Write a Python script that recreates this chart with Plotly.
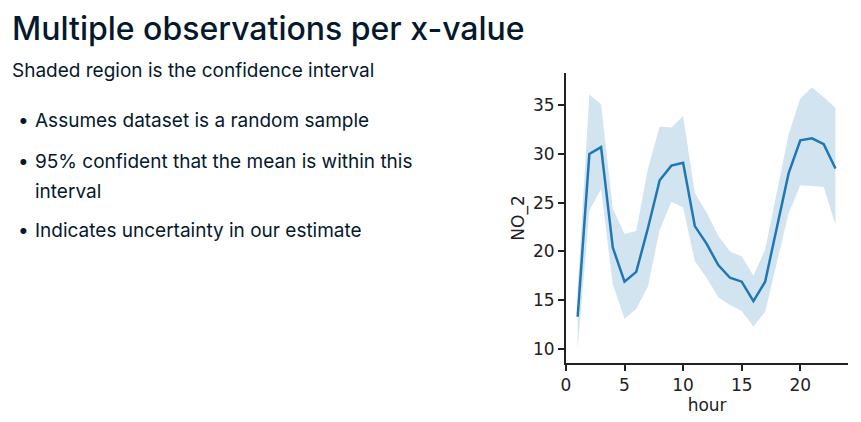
import plotly.graph_objects as go

hours = list(range(1, 24))
no2_mean = [13.3, 30.0, 30.7, 20.4, 16.9, 17.9, 22.4, 27.3, 28.8, 29.1, 22.6, 20.8,
            18.6, 17.3, 16.9, 14.9, 16.9, 22.4, 28.0, 31.4, 31.6, 31.0, 28.5]
ci_upper = [16.0, 36.1, 35.1, 24.4, 21.8, 22.1, 28.5, 32.8, 32.7, 33.9, 26.0, 24.0,
            21.6, 20.0, 19.5, 17.5, 20.2, 26.0, 32.0, 35.7, 36.8, 35.8, 34.7]
ci_lower = [10.0, 24.2, 26.4, 16.6, 13.1, 14.1, 16.4, 22.2, 25.1, 24.5, 19.0, 17.3,
            15.3, 14.5, 13.9, 12.3, 13.8, 19.0, 23.9, 26.8, 26.7, 26.6, 22.7]

title = "Multiple observations per x-value"
subtitle = "Shaded region is the confidence interval"
bullets = [["Assumes dataset is a random sample"],
           ["95% confident that the mean is within this", "interval"],
           ["Indicates uncertainty in our estimate"]]

navy = "#05192D"
H = 422.0
fig = go.Figure()
fig.add_trace(go.Scatter(x=hours + hours[::-1], y=ci_upper + ci_lower[::-1],
                         fill="toself", fillcolor="rgba(31,119,180,0.2)",
                         line=dict(width=0), hoverinfo="skip"))
fig.add_trace(go.Scatter(x=hours, y=no2_mean, mode="lines",
                         line=dict(color="#1f77b4", width=2.5)))

tickfont = dict(family="DejaVu Sans", size=17, color="#222")
axis = dict(showgrid=False, zeroline=False, showline=True, linecolor="#222",
            linewidth=2, ticks="outside", ticklen=6, tickwidth=1.5,
            tickcolor="#222", tickfont=tickfont, automargin=False)
fig.update_layout(
    width=861, height=422, margin=dict(l=0, r=0, t=0, b=0),
    paper_bgcolor="white", plot_bgcolor="white", showlegend=False,
    xaxis=dict(axis, domain=[0.648, 0.976], range=[0, 24.1],
               tickvals=[0, 5, 10, 15, 20],
               title=dict(text="hour", font=tickfont, standoff=2)),
    yaxis=dict(axis, domain=[0.159, 0.846], range=[8.57, 38.3],
               tickvals=[10, 15, 20, 25, 30, 35],
               title=dict(text="NO_2", font=tickfont, standoff=4)),
)


def note(text, x, ypix, size, weight="normal"):
    fig.add_annotation(x=x / 861.0, y=1 - ypix / H, xref="paper", yref="paper",
                       xanchor="left", yanchor="middle", showarrow=False,
                       text=text, align="left",
                       font=dict(family="Inter", size=size, color=navy,
                                 weight=weight))


note(title, 2, 20, 32, 500)
note(subtitle, 2, 63, 19)
ys = [[112], [153, 183], [222]]
for lines, ypos in zip(bullets, ys):
    note("•", 8, ypos[0], 19)
    for t, yy in zip(lines, ypos):
        note(t, 25, yy, 19)

fig.write_html("out.html")
